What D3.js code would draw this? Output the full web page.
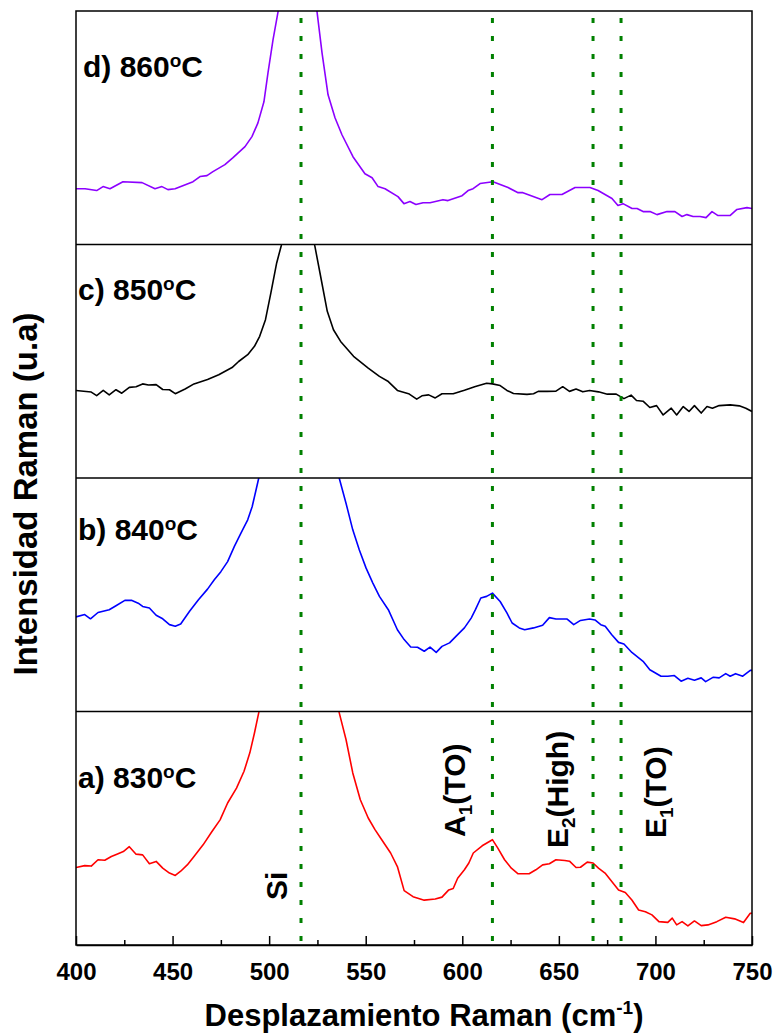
<!DOCTYPE html>
<html>
<head>
<meta charset="utf-8">
<title>Raman</title>
<script src="https://cdn.jsdelivr.net/npm/d3@7/dist/d3.min.js"></script>
<style>
body { margin: 0; background: #fff; }
text { font-family: "Liberation Sans", Arial, sans-serif; font-weight: bold; fill: #000; }
.line { fill: none; stroke-width: 1.6px; stroke-linejoin: round; }
.axis path, .axis line { stroke: #000; stroke-width: 1.5px; }
</style>
</head>
<body>
<svg width="777" height="1036"></svg>
<script>
// panels, top to bottom
var panelIds = ["d)", "c)", "b)", "a)"];
var temps = ["860", "850", "840", "830"];
var lineColors = ["#8c00ff", "#000000", "#0000ff", "#ff0000"];

// [Raman shift (cm-1), intensity (a.u., panel height = 100)]
var s860 = [[400,23.9],[404.7,23.9],[410.7,23.1],[414,24.8],[417.6,23.9],[424.3,26.9],[434.2,26.5],[440.9,23.9],[444.5,24.8],[447.6,23.5],[451.3,23.9],[460.6,26.9],[464.2,29.1],[467.8,29.5],[470.9,31.2],[477.1,34.2],[481.3,37.2],[487.5,41.9],[491.1,46.2],[494.2,52.1],[497.3,61.1],[499.4,73.5],[502,87.6],[504.6,99.6],[515,190],[524.8,99.6],[527.4,82],[530.5,64.1],[534.1,54.3],[537.7,47],[543.4,37.6],[549.6,30.3],[553.3,28.6],[556.4,24.8],[560,23.9],[566.7,20.5],[569.8,17.5],[572.9,18.4],[576,17.1],[579.7,17.9],[583.3,17.9],[590,19.2],[592.6,18.8],[599.9,20.9],[603,23.1],[605.6,23.9],[609.2,26.1],[615.9,26.9],[623.7,24.4],[628.9,22.2],[631.4,22.2],[641.3,19.2],[645.4,21.4],[651.6,21.4],[658.4,24.4],[666.1,24.4],[670.3,23.1],[677.5,19.7],[680.6,16.7],[683.2,17.5],[687.9,15.4],[690.5,15.4],[693.6,14.1],[697.2,14.1],[700.8,12.8],[706,14.1],[710.1,14.1],[713.8,12],[716.3,12.8],[719.5,12],[723.1,12],[726.2,11.5],[729.3,14.1],[732.4,12.4],[738.6,12.4],[742.2,15],[747.4,15.8],[750,15.4]];

var s850 = [[400,37.5],[407.9,36.8],[410.7,35.3],[414.1,37.5],[417.2,35.6],[420.7,37.8],[423.7,36.3],[427.6,38.8],[431.1,39.1],[434.5,40.3],[437.5,39.8],[441.5,40],[444.9,37.9],[448.4,37.8],[451.4,36.1],[456.5,38.1],[461.1,40.3],[468.1,42.2],[473.9,44.2],[480.8,47.3],[484.2,49.9],[488.9,52.8],[492.4,56.4],[495.1,60.7],[498.1,67.8],[500.9,79.3],[503.9,92.1],[506.3,99.6],[515,190],[523.6,99.6],[526.3,87.9],[530.1,71.4],[533.3,63.5],[537,58.5],[543.7,52.1],[551.3,47.1],[557.1,43.5],[561.7,41.3],[566.4,37.5],[572.2,36.1],[576.4,33.8],[579.1,35.2],[582.6,35.6],[586,34.3],[589.5,36.1],[595.3,36.1],[601.1,37.6],[606.8,39.2],[612.6,40.6],[615.6,40.3],[619.6,39.6],[623.1,37.5],[626.5,36.2],[633.5,35.8],[636.9,36.1],[639.3,37.1],[643.9,37.1],[648.5,37.2],[652,39.1],[655.5,37.1],[658.9,38.1],[662.4,36.9],[665.9,37.5],[670.5,36.9],[675.1,35.9],[679.7,35.9],[683.7,34],[687.4,35.5],[690.2,33.2],[693.6,32.9],[697.1,30.2],[700.6,31],[704,27],[708.2,29.9],[711,27],[714.4,30.6],[717.4,28.5],[720.2,31],[723.7,27.8],[726.7,30.6],[729.5,29.9],[733,31],[738.7,31.3],[743.4,30.9],[746.8,29.9],[750,28.5]];

var s840 = [[400,40.5],[404.5,41.5],[407.5,39.7],[411.4,42.4],[417.2,43.6],[420.7,45.3],[425.3,47.6],[428.7,47.6],[432.2,46.4],[434.5,45],[438,44.3],[441.5,41.2],[444.9,39.7],[448.4,37.2],[451.4,36.5],[454.2,37.5],[458.8,42.9],[463.4,47.9],[468.1,52.4],[471.6,56.4],[475,59.9],[478.5,64.2],[482,70.7],[485.4,76.4],[488.9,82.1],[491.2,87.7],[493,94.1],[494.6,99.9],[515,220],[536.3,99.9],[539.8,89.2],[543.3,77.8],[546.7,69.2],[550.2,61.4],[553.7,55],[557.1,49.3],[561.7,43.6],[566.4,35],[569.9,30.8],[573.3,27.6],[576.8,27.5],[580.3,25.8],[583.3,27.6],[586.5,25.3],[589.5,27.9],[593.4,29.4],[597.6,32.9],[601.1,35.8],[604.6,40],[606.8,43.6],[609.6,48.6],[612.6,49.3],[615.6,50.7],[619.6,47.1],[623.1,42.2],[625.8,37.9],[629.5,35.8],[632.3,35],[636.9,35.8],[641.6,36.9],[645.1,40.2],[648.5,39.6],[654.3,39.6],[657.7,37.2],[661.2,39],[665.9,39.6],[668.7,39.2],[671.7,37.2],[674,36.5],[677.4,32.9],[680.9,29.6],[683.7,28.9],[687.8,25.3],[693.6,21.5],[697.1,17.9],[702.9,15.1],[706.4,15.1],[709.8,15.4],[713.3,13],[716.8,14.2],[720.2,13.4],[723.7,14.4],[726,12.8],[730,14.7],[733,14.4],[736.4,16.2],[738.7,15.1],[741.5,16.2],[745.2,15.1],[749.1,17.6],[750,17.6]];

var s830 = [[400,33.2],[404.5,34],[407.9,33.8],[411.4,36.5],[414.9,36.3],[418.3,37.9],[421.8,39.1],[424.5,40],[427.6,42.1],[431.1,38.9],[434.5,38.6],[438,34.8],[441.5,35.8],[444.9,32.9],[448.4,30.8],[451.4,29.8],[454.2,31.6],[457.6,34.3],[461.1,37.9],[465.8,42.9],[470.4,48.6],[474.6,53.6],[478.5,60.8],[483.1,67.2],[487,74.4],[490,82.3],[492.4,90.8],[494.6,99.4],[515,220],[536.3,99.4],[539.8,88],[543.3,73.7],[547.2,62.2],[551.3,54.4],[554.8,49.4],[558.3,45.1],[562.9,39.4],[566.4,33.6],[569.9,23.3],[574.5,20.7],[580.3,19.2],[586,19.7],[589.5,20.5],[593,23.6],[595.3,24.2],[597.6,28.6],[601.1,32.2],[603.4,35.1],[605.7,39.4],[610.3,42.5],[615.6,45.1],[618.4,41.5],[621.9,36.5],[625.4,32.9],[628.9,30.5],[634.6,30.5],[638.1,32.2],[641.6,34.3],[645.1,34.8],[648.5,36.5],[653.1,36.2],[655.5,35.9],[658.9,33.2],[661.2,33.3],[664.7,35.5],[667.7,35.1],[670.5,32.9],[673.9,30.8],[677.4,27.2],[680.9,23.6],[684.4,22.5],[687.8,19.3],[691.3,15],[694.8,14.2],[698.2,12.9],[701.8,10],[706.4,9.7],[708.7,11.5],[711,8.6],[713.8,10],[716.8,8.2],[720.2,10.3],[723.7,8.3],[727.2,8.6],[731.8,10],[736.4,11.9],[741,11.2],[745.6,9.6],[749.1,13.6],[750,13.6]];

var series = [s860, s850, s840, s830];

// reference mode positions (cm-1) and their names
var modePos = [516.5, 615.6, 667.7, 682.2];
var modeMain = ["Si", "A", "E", "E"];
var modeSub = ["", "1", "2", "1"];
var modeTail = ["", "(TO)", "(High)", "(TO)"];

var xTicks = [400, 450, 500, 550, 600, 650, 700, 750];
var xMinor = [425, 475, 525, 575, 625, 675, 725];

var svg = d3.select("svg"),
    margin = {top: 11, right: 25, bottom: 91, left: 76},
    width = +svg.attr("width") - margin.left - margin.right,
    height = +svg.attr("height") - margin.top - margin.bottom,
    panelH = height / 4,
    g = svg.append("g").attr("transform", "translate(" + margin.left + "," + margin.top + ")");

var x = d3.scaleLinear().domain([400, 750]).range([0, width]);
var y = d3.scaleLinear().domain([0, 100]).range([panelH, 0]);

var line = d3.line()
    .x(function(d) { return x(d[0]); })
    .y(function(d) { return y(d[1]); });

// label baselines inside each panel (px from panel top) and left offset
var labelDy = [66, 55, 62, 76];
var labelDx = [7, 2, 2, 2];

series.forEach(function(s, i) {
  var p = g.append("g").attr("transform", "translate(0," + (i * panelH) + ")");

  p.append("clipPath").attr("id", "clip" + i)
    .append("rect").attr("width", width).attr("height", panelH);

  p.append("path")
      .datum(s)
      .attr("class", "line")
      .attr("clip-path", "url(#clip" + i + ")")
      .attr("d", line)
      .style("stroke", lineColors[i]);

  var t = p.append("text")
      .attr("x", labelDx[i])
      .attr("y", labelDy[i])
      .style("font-size", "30px");
  t.append("tspan").text(panelIds[i] + " " + temps[i]);
  t.append("tspan").attr("dy", -10).style("font-size", "19px").text("o");
  t.append("tspan").attr("dy", 10).text("C");
});

// mode guide lines across all panels
g.selectAll(".mode")
  .data(modePos)
  .enter().append("line")
    .attr("class", "mode")
    .attr("x1", function(d) { return x(d); })
    .attr("x2", function(d) { return x(d); })
    .attr("y1", 0)
    .attr("y2", height)
    .style("stroke", "#008000")
    .style("stroke-width", 3)
    .style("stroke-dasharray", "5,13")
    .style("stroke-dashoffset", 11);

// panel frames
g.append("rect")
    .attr("width", width).attr("height", height)
    .style("fill", "none").style("stroke", "#000").style("stroke-width", 1.5);
g.selectAll(".sep")
  .data([1, 2, 3])
  .enter().append("line")
    .attr("x1", 0).attr("x2", width)
    .attr("y1", function(d) { return d * panelH; })
    .attr("y2", function(d) { return d * panelH; })
    .style("stroke", "#000").style("stroke-width", 1.5);

// bottom axis, ticks inward
g.append("g")
    .attr("class", "axis")
    .attr("transform", "translate(0," + height + ")")
    .call(d3.axisBottom(x).tickValues(xTicks).tickSizeInner(-9).tickSizeOuter(0).tickPadding(18))
    .call(function(a) { a.selectAll("text").style("font-size", "24px").style("font-family", null); });

g.append("g")
    .attr("class", "axis")
    .attr("transform", "translate(0," + height + ")")
    .call(d3.axisBottom(x).tickValues(xMinor).tickSizeInner(-5).tickSizeOuter(0).tickFormat(""))
    .call(function(a) { a.select(".domain").remove(); });

// mode names, rotated, in the bottom panel
var labelX = [509.2, 601.6, 654.9, 705.5];
var labelY = [19.3, 46.3, 41.5, 45.8];
var yA = d3.scaleLinear().domain([0, 100]).range([height, height - panelH]);

modeMain.forEach(function(m, i) {
  var t = g.append("text")
      .attr("transform", "translate(" + x(labelX[i]) + "," + yA(labelY[i]) + ") rotate(-90)")
      .style("font-size", "30px");
  t.append("tspan").text(m);
  if (modeSub[i]) {
    t.append("tspan").attr("dy", 7).style("font-size", "19px").text(modeSub[i]);
    t.append("tspan").attr("dy", -7).text(modeTail[i]);
  }
});

// axis titles
var xt = g.append("text")
    .attr("x", width / 2 + 10)
    .attr("y", 1026 - margin.top)
    .attr("text-anchor", "middle")
    .style("font-size", "31px");
xt.append("tspan").text("Desplazamiento Raman (cm");
xt.append("tspan").attr("dy", -12).style("font-size", "19px").text("-1");
xt.append("tspan").attr("dy", 12).text(")");

g.append("text")
    .attr("transform", "translate(" + (37 - margin.left) + "," + (494 - margin.top) + ") rotate(-90)")
    .attr("text-anchor", "middle")
    .style("font-size", "33px")
    .text("Intensidad Raman (u.a)");
</script>
</body>
</html>
